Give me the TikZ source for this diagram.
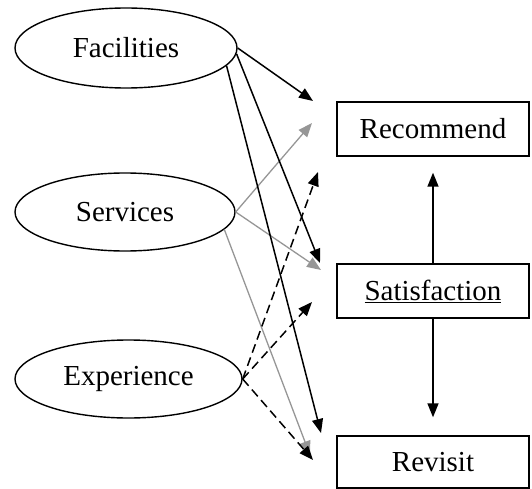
\documentclass[tikz,border=0pt]{standalone}
\usepackage{fontspec}
\setmainfont{Liberation Serif}
\usetikzlibrary{shapes.geometric,arrows.meta}
\definecolor{lgray}{RGB}{150,150,150}
\begin{document}
\begin{tikzpicture}[x=1pt,y=-1pt,
  every node/.style={font=\fontsize{29}{34}\selectfont},
  el/.style={draw, ellipse, line width=1.4pt, inner sep=0pt},
  bx/.style={draw, rectangle, line width=1.4pt, minimum width=192pt, minimum height=54pt, inner sep=0pt},
  tip/.style={-{Triangle[length=14pt,width=11pt]}},
  blk/.style={tip, line width=1.5pt, black},
  gry/.style={tip, line width=1.3pt, lgray},
  dsh/.style={tip, line width=1.5pt, black, dash pattern=on 9pt off 5pt}]
\useasboundingbox (0,0) rectangle (532,489);
\node[el, minimum width=222pt, minimum height=80pt] (fac) at (126,48) {Facilities};
\node[el, minimum width=220pt, minimum height=78pt] (svc) at (125,212) {Services};
\node[el, minimum width=227pt, minimum height=78pt] (exp) at (128.5,379) {Experience};
\node[bx] (rec) at (433,129) {Recommend};
\node[bx] (sat) at (433,291) {\underline{Satisfaction}};
\node[bx, minimum height=52pt] (rev) at (433,462) {Revisit};
\coordinate (f1) at (313,101);
\coordinate (f2) at (320,263);
\coordinate (f3) at (321,433);
\coordinate (s1) at (312,123);
\coordinate (s2) at (321,270);
\coordinate (s3) at (310,455);
\coordinate (e1) at (318,172);
\coordinate (e2) at (312,302);
\coordinate (e3) at (313,460);
\draw[gry] (svc.east) -- (s1);
\draw[gry] (svc.east) -- (s2);
\draw[gry] (svc.-10) -- (s3);
\draw[blk] (fac.east) -- (f1);
\draw[blk] (fac.-3) -- (f2);
\draw[blk] (fac.-10.5) -- (f3);
\draw[dsh] (exp.east) -- (e1);
\draw[dsh] (exp.east) -- (e2);
\draw[dsh] (exp.east) -- (e3);
\draw[blk, shorten >=16pt] (sat.north) -- (rec.south);
\draw[blk, shorten >=18pt] (sat.south) -- (rev.north);
\end{tikzpicture}
\end{document}
